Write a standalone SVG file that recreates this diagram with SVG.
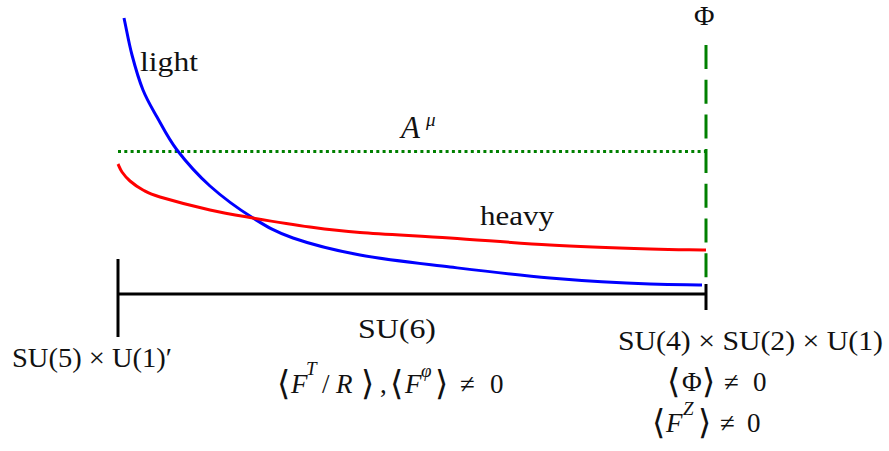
<svg xmlns="http://www.w3.org/2000/svg" width="889" height="451" viewBox="0 0 889 451">
<style>
.t{font-family:"Liberation Serif","DejaVu Serif",serif;font-size:27px;fill:#111}
.i{font-style:italic}
.s{font-size:19px}
.b{font-size:34px}
.curve{fill:none;stroke-width:3;stroke-linejoin:round;stroke-linecap:butt}
</style>
<rect width="889" height="451" fill="#fff"/>
<g id="connectors">
<line id="axis" x1="118" y1="294" x2="706" y2="294" stroke="#000" stroke-width="3"/>
<line id="tickL" x1="118" y1="259" x2="118" y2="337" stroke="#000" stroke-width="3"/>
<line id="tickR" x1="706" y1="284" x2="706" y2="310" stroke="#000" stroke-width="3"/>
<line id="Amu-line" x1="118" y1="151.5" x2="706" y2="151.5" stroke="#008000" stroke-width="3" stroke-dasharray="3,3.3"/>
<line id="Phi-line" x1="706" y1="45" x2="706" y2="278" stroke="#008000" stroke-width="3" stroke-dasharray="24,10.7"/>
<path id="light-curve" class="curve" stroke="#0000ff" d="M124,18 C126.67,30.33 128.83,43 132,55 C135.17,67 138.83,79.67 143,90 C147.17,100.33 151.33,107 157,117 C162.67,127 168.17,138.5 177,150 C185.83,161.5 197.33,174.67 210,186 C222.67,197.33 239.17,209.33 253,218 C266.83,226.67 275.17,231.83 293,238 C310.83,244.17 333.83,250.17 360,255 C386.17,259.83 418.33,263.17 450,267 C481.67,270.83 516.67,275.17 550,278 C583.33,280.83 624.67,283.2 650,284 C675.33,284.8 684.67,284.67 702,285"/>
<path id="heavy-curve" class="curve" stroke="#ff0000" d="M118,164 C119.33,166.67 120,169.17 122,172 C124,174.83 126.5,178 130,181 C133.5,184 138,187.33 143,190 C148,192.67 148.83,193.67 160,197 C171.17,200.33 194.5,206.5 210,210 C225.5,213.5 236.33,215.17 253,218 C269.67,220.83 292.17,224.58 310,227 C327.83,229.42 336.67,230.67 360,232.5 C383.33,234.33 418.33,235.92 450,238 C481.67,240.08 516.67,243.17 550,245 C583.33,246.83 624,248.17 650,249 C676,249.83 687.33,249.67 706,250"/>
</g>
<g id="label-light"><text class="t" x="140" y="71" textLength="58" lengthAdjust="spacingAndGlyphs">light</text></g>
<g id="label-heavy"><text class="t" x="480" y="225" textLength="74" lengthAdjust="spacingAndGlyphs">heavy</text></g>
<g id="label-Amu"><text class="t i" x="401" y="138" style="font-size:31px">A</text><text class="t i s" x="426" y="126">μ</text></g>
<g id="label-Phi"><text class="t" x="694" y="25" style="font-size:28px">Φ</text></g>
<g id="label-SU5"><text class="t" x="12" y="367" textLength="160" lengthAdjust="spacingAndGlyphs">SU(5) × U(1)′</text></g>
<g id="label-SU6">
<text class="t" x="358" y="338" textLength="78" lengthAdjust="spacingAndGlyphs">SU(6)</text>
<text class="t" y="393"><tspan class="b" x="277" dy="2">⟨</tspan><tspan class="i" x="291" dy="-2">F</tspan></text>
<text class="t i s" x="306" y="375">T</text>
<text class="t" y="393"><tspan x="322">/</tspan><tspan class="i" x="336">R</tspan><tspan class="b" x="361" dy="2">⟩</tspan><tspan x="380" dy="-2">,</tspan><tspan class="b" x="390" dy="2">⟨</tspan><tspan class="i" x="405" dy="-2">F</tspan></text>
<text class="t i s" x="421" y="377">φ</text>
<text class="t" y="393"><tspan class="b" x="435" dy="2">⟩</tspan><tspan x="460" dy="-2">≠</tspan><tspan x="490">0</tspan></text>
</g>
<g id="label-SU4">
<text class="t" x="618" y="350" textLength="265" lengthAdjust="spacingAndGlyphs">SU(4) × SU(2) × U(1)</text>
<text class="t" y="391"><tspan class="b" x="667" dy="2">⟨</tspan><tspan x="682" dy="-2">Φ</tspan><tspan class="b" x="702" dy="2">⟩</tspan><tspan x="724" dy="-2">≠</tspan><tspan x="753">0</tspan></text>
<text class="t" y="432"><tspan class="b" x="652" dy="2">⟨</tspan><tspan class="i" x="666" dy="-2">F</tspan></text>
<text class="t i s" x="683" y="415">Z</text>
<text class="t" y="432"><tspan class="b" x="698" dy="2">⟩</tspan><tspan x="720" dy="-2">≠</tspan><tspan x="747">0</tspan></text>
</g>
</svg>
